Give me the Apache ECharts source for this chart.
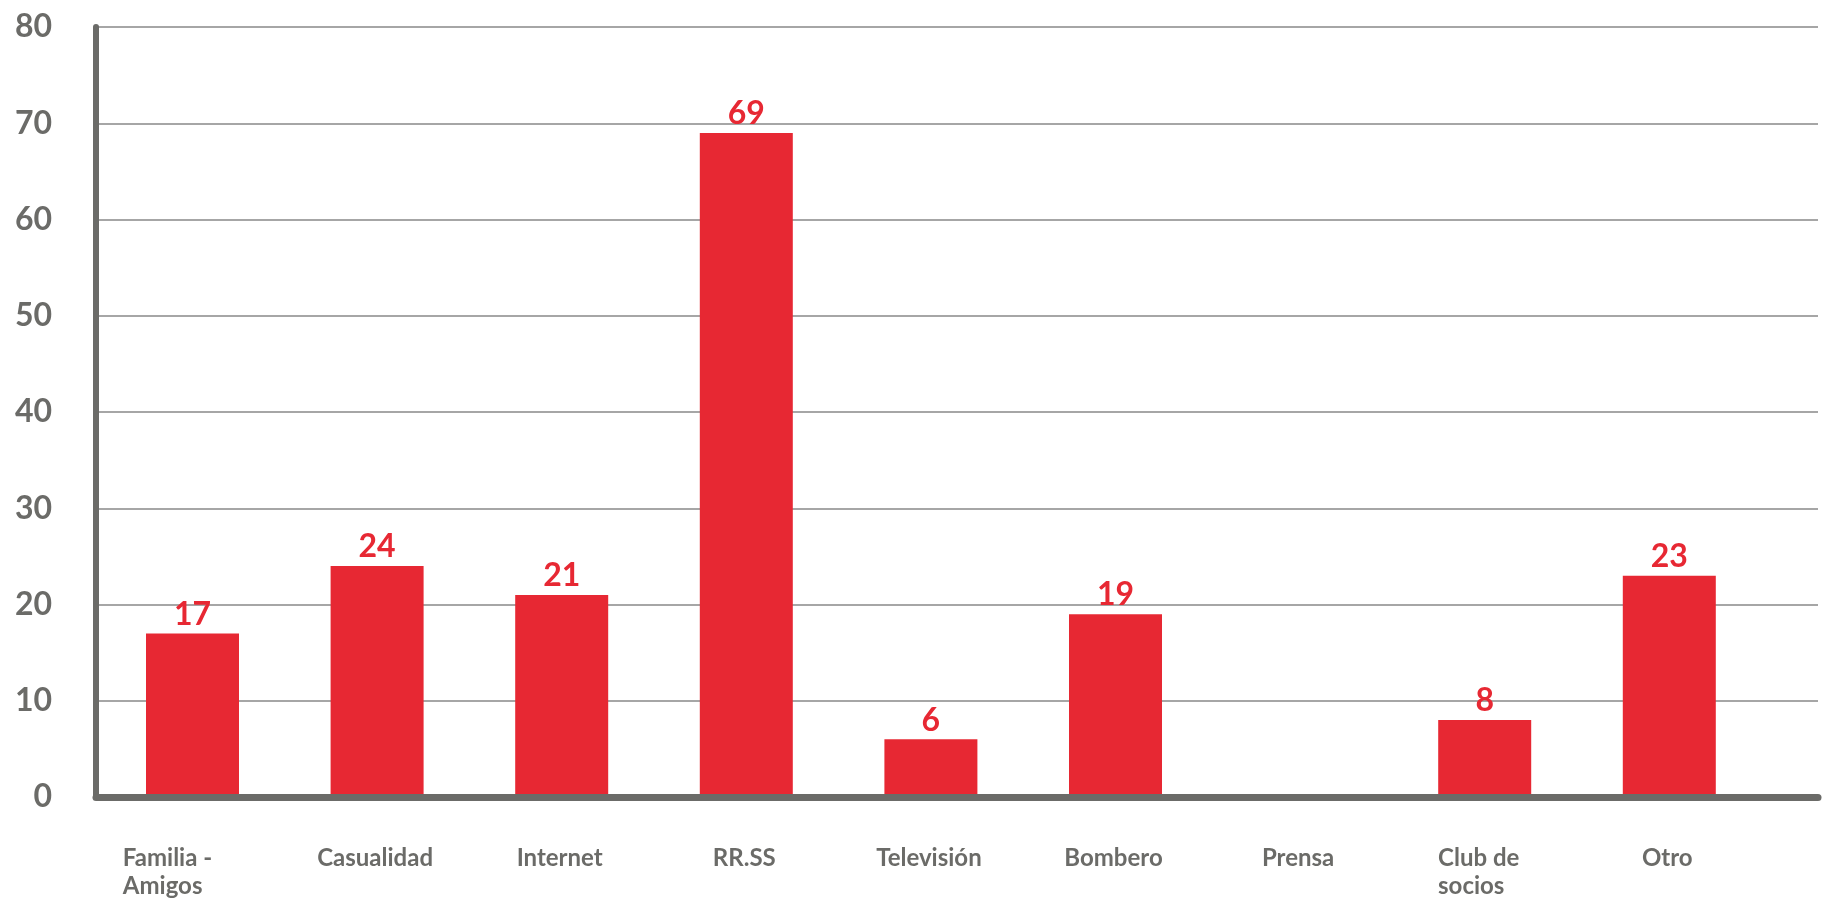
<!DOCTYPE html>
<html>
<head>
<meta charset="utf-8">
<script src="https://cdn.jsdelivr.net/npm/echarts@6/dist/echarts.min.js"></script>
<style>
html,body{margin:0;padding:0;background:#fff;}
#chart{width:1822px;height:902px;}
</style>
</head>
<body>
<div id="chart"></div>
<script>
const categories = ['Familia - Amigos', 'Casualidad', 'Internet', 'RR.SS', 'Televisión', 'Bombero', 'Prensa', 'Club de socios', 'Otro'];
const categoryLines = ['Familia -\nAmigos', 'Casualidad', 'Internet', 'RR.SS', 'Televisión', 'Bombero', 'Prensa', 'Club de\nsocios', 'Otro'];
const values = [17, 24, 21, 69, 6, 19, 0, 8, 23];
const yTicks = [0, 10, 20, 30, 40, 50, 60, 70, 80];

const RED = '#e72833';
const GRAY = '#6b6b68';
const FONT = 'Lato';

const chart = echarts.init(document.getElementById('chart'), null, {renderer: 'canvas'});

const xData = categoryLines.map(function (t, i) {
  const item = {value: t};
  if (i === 0) item.textStyle = {padding: [0, 50, 0, 0]};
  else if (i === 7) item.textStyle = {padding: [0, 12, 0, 0]};
  else item.textStyle = {padding: [0, 4, 0, 0]};
  return item;
});

chart.setOption({
  animation: false,
  backgroundColor: '#ffffff',
  grid: [
    {left: 100.2, width: 1661.4, top: 27, bottom: 105, containLabel: false},
    {left: 96, right: 4, top: 27, bottom: 105, containLabel: false}
  ],
  xAxis: [
    {
      type: 'category', gridIndex: 0, data: xData,
      axisLine: {show: false}, axisTick: {show: false},
      axisLabel: {
        interval: 0, margin: 47, color: GRAY, fontFamily: FONT, fontWeight: 'bold', fontSize: 24,
        lineHeight: 28.5, verticalAlign: 'top',
        formatter: function (v) {
          return v.split('\n').map(function (s) { return '{l|' + s + '}'; }).join('\n');
        },
        rich: {l: {align: 'left', color: GRAY, fontFamily: FONT, fontWeight: 'bold', fontSize: 24, lineHeight: 28.5}}
      },
      splitLine: {show: false}
    },
    {
      type: 'value', gridIndex: 1, min: 0, max: 1, show: true, z: 5,
      axisLine: {show: true, onZero: false, lineStyle: {color: GRAY, width: 7, cap: 'round'}},
      axisTick: {show: false}, axisLabel: {show: false}, splitLine: {show: false}
    }
  ],
  yAxis: [
    {
      type: 'value', gridIndex: 0, min: 0, max: 80, interval: 10, show: false,
      splitLine: {show: false}
    },
    {
      type: 'value', gridIndex: 1, min: 0, max: 80, interval: 10, z: 1,
      axisLine: {show: true, lineStyle: {color: GRAY, width: 6, cap: 'round'}},
      axisTick: {show: false},
      axisLabel: {
        margin: 44, color: GRAY, fontFamily: FONT, fontWeight: 'bold', fontSize: 32,
        padding: [0, 0, 10, 0],
        formatter: function (v) { return yTicks.indexOf(v) >= 0 ? String(v) : ''; }
      },
      splitLine: {show: true, lineStyle: {color: '#a6a6a6', width: 2}}
    }
  ],
  series: [
    {
      type: 'bar', xAxisIndex: 0, yAxisIndex: 0, data: values,
      barWidth: 93, z: 2,
      itemStyle: {color: RED},
      label: {
        show: true, position: 'top', distance: 3, color: RED, fontFamily: FONT,
        fontWeight: 'bold', fontSize: 32,
        formatter: function (p) { return p.value ? String(p.value) : ''; }
      }
    }
  ]
});
</script>
</body>
</html>
